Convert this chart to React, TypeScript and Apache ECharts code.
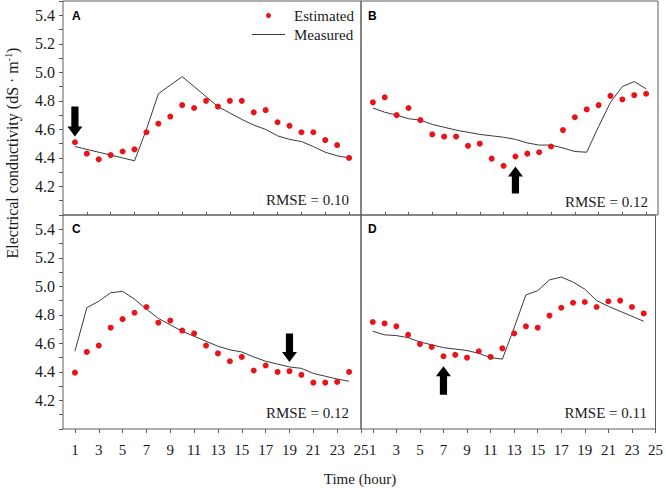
import React, { useEffect, useRef } from "react";
import * as echarts from "echarts";

const hours = [1, 2, 3, 4, 5, 6, 7, 8, 9, 10, 11, 12, 13, 14, 15, 16, 17, 18, 19, 20, 21, 22, 23, 24];

const estA = [4.51, 4.43, 4.39, 4.42, 4.445, 4.46, 4.58, 4.64, 4.69, 4.77, 4.75, 4.8, 4.76, 4.8, 4.8, 4.72, 4.735, 4.65, 4.625, 4.58, 4.58, 4.525, 4.49, 4.4];
const measA = [4.48, 4.46, 4.44, 4.42, 4.4, 4.38, 4.6, 4.85, 4.91, 4.97, 4.9, 4.83, 4.76, 4.715, 4.67, 4.63, 4.6, 4.555, 4.53, 4.515, 4.48, 4.44, 4.415, 4.4];

const estB = [4.79, 4.825, 4.7, 4.75, 4.665, 4.565, 4.55, 4.55, 4.485, 4.5, 4.395, 4.345, 4.41, 4.43, 4.44, 4.48, 4.595, 4.685, 4.74, 4.77, 4.835, 4.81, 4.84, 4.85];
const measB = [4.75, 4.72, 4.7, 4.675, 4.665, 4.635, 4.615, 4.595, 4.58, 4.565, 4.555, 4.545, 4.53, 4.505, 4.49, 4.49, 4.47, 4.445, 4.44, 4.62, 4.79, 4.9, 4.935, 4.885];

const estC = [4.395, 4.54, 4.585, 4.71, 4.77, 4.815, 4.855, 4.745, 4.76, 4.69, 4.67, 4.585, 4.53, 4.475, 4.505, 4.41, 4.445, 4.4, 4.405, 4.38, 4.325, 4.325, 4.33, 4.4];
const measC = [4.545, 4.85, 4.895, 4.955, 4.965, 4.91, 4.84, 4.775, 4.73, 4.685, 4.65, 4.615, 4.58, 4.555, 4.54, 4.505, 4.475, 4.455, 4.435, 4.425, 4.39, 4.37, 4.35, 4.335];

const estD = [4.75, 4.74, 4.72, 4.66, 4.595, 4.575, 4.51, 4.52, 4.5, 4.545, 4.505, 4.565, 4.67, 4.72, 4.71, 4.795, 4.85, 4.885, 4.89, 4.855, 4.895, 4.9, 4.855, 4.81];
const measD = [4.685, 4.66, 4.655, 4.64, 4.61, 4.59, 4.57, 4.56, 4.55, 4.53, 4.5, 4.49, 4.71, 4.94, 4.97, 5.045, 5.065, 5.03, 4.98, 4.9, 4.86, 4.825, 4.79, 4.755];

const panelLetters = ["A", "B", "C", "D"];
const rmseTexts = ["RMSE = 0.10", "RMSE = 0.12", "RMSE = 0.12", "RMSE = 0.11"];

// arrows: hour, tail value, tip value (per panel)
const arrowHours = [1, 13, 19, 7];
const arrowTails = [4.76, 4.15, 4.67, 4.24];
const arrowTips = [4.55, 4.34, 4.47, 4.44];

const xLabelValues = [1, 3, 5, 7, 9, 11, 13, 15, 17, 19, 21, 23, 25];
const xTopTickValues = [2, 4, 6, 8, 10, 12, 14, 16, 18, 20, 22, 24];
const yLabelValues = [4.2, 4.4, 4.6, 4.8, 5.0, 5.2, 5.4];
const yTickValues = [4.0, 4.1, 4.2, 4.3, 4.4, 4.5, 4.6, 4.7, 4.8, 4.9, 5.0, 5.1, 5.2, 5.3, 5.4, 5.5];

const ests = [estA, estB, estC, estD];
const meass = [measA, measB, measC, measD];

const SERIF = "Liberation Serif";
const AXIS_COLOR = "#5c5c5c";
const TEXT_COLOR = "#1a1a1a";
const DOT_COLOR = "#e8141b";
const LINE_COLOR = "#3a3a3a";

export default function App() {
  const ref = useRef<HTMLDivElement>(null);
  useEffect(() => {
    document.body.style.margin = "0";
    const chart = echarts.init(ref.current!, null, { renderer: "svg" });

    const grids = [
      { left: 63, top: 1, width: 298, height: 214 },
      { left: 361, top: 1, width: 297, height: 214 },
      { left: 63, top: 215, width: 298, height: 214 },
      { left: 361, top: 215, width: 297, height: 214 },
    ].map((g) => ({ ...g, show: true, borderColor: AXIS_COLOR, borderWidth: 1, containLabel: false }));

    const xAxes = [0, 1, 2, 3].map((i) => {
      const bottom = i >= 2;
      return {
        type: "value",
        gridIndex: i,
        min: 0,
        max: 25,
        axisLine: { show: false },
        splitLine: { show: false },
        axisTick: bottom
          ? { show: true, customValues: xLabelValues, length: 4, lineStyle: { color: AXIS_COLOR } }
          : { show: true, inside: true, customValues: xTopTickValues, length: 3, lineStyle: { color: AXIS_COLOR } },
        axisLabel: bottom
          ? { show: true, customValues: xLabelValues, fontFamily: SERIF, fontSize: 15, color: TEXT_COLOR, margin: 13 }
          : { show: false },
      };
    });

    const yAxes = [0, 1, 2, 3].map((i) => {
      const left = i % 2 === 0;
      return {
        type: "value",
        gridIndex: i,
        min: 4.0,
        max: 5.5,
        axisLine: { show: false },
        splitLine: { show: false },
        axisTick: left
          ? { show: true, customValues: yTickValues, length: 4, lineStyle: { color: AXIS_COLOR } }
          : { show: false },
        axisLabel: left
          ? {
              show: true,
              customValues: yLabelValues,
              formatter: (v: number) => v.toFixed(1),
              fontFamily: SERIF,
              fontSize: 16,
              color: TEXT_COLOR,
              margin: 8,
            }
          : { show: false },
      };
    });

    const series: any[] = [];
    for (let i = 0; i < 4; i++) {
      series.push({
        name: "Measured",
        type: "line",
        xAxisIndex: i,
        yAxisIndex: i,
        data: hours.map((h, k) => [h, meass[i][k]]),
        symbol: "none",
        lineStyle: { color: LINE_COLOR, width: 1 },
        itemStyle: { color: LINE_COLOR },
        z: 2,
      });
      series.push({
        name: "Estimated",
        type: "scatter",
        xAxisIndex: i,
        yAxisIndex: i,
        data: hours.map((h, k) => [h, ests[i][k]]),
        symbol: "circle",
        symbolSize: 6,
        itemStyle: { color: DOT_COLOR, opacity: 1 },
        z: 3,
      });
      series.push({
        type: "custom",
        xAxisIndex: i,
        yAxisIndex: i,
        silent: true,
        data: [[arrowHours[i], arrowTails[i], arrowTips[i]]],
        renderItem: (params: any, api: any) => {
          const h = api.value(0);
          const p0 = api.coord([h, api.value(1)]);
          const p1 = api.coord([h, api.value(2)]);
          const x = p0[0];
          const y0 = p0[1];
          const y1 = p1[1];
          const dir = y1 > y0 ? 1 : -1;
          const hw = 7.5;
          const sw = 3.6;
          const hl = 10;
          const yb = y1 - dir * hl;
          return {
            type: "polygon",
            shape: {
              points: [
                [x - sw, y0],
                [x + sw, y0],
                [x + sw, yb],
                [x + hw, yb],
                [x, y1],
                [x - hw, yb],
                [x - sw, yb],
              ],
            },
            style: { fill: "#000" },
          };
        },
        z: 4,
      });
    }

    const letterPos = [
      [72, 16],
      [368, 16],
      [72, 229],
      [368, 229],
    ];
    const rmsePos = [
      [349, 200],
      [648, 202],
      [349, 413],
      [647, 413],
    ];

    const graphic: any[] = [];
    for (let i = 0; i < 4; i++) {
      graphic.push({
        type: "text",
        x: letterPos[i][0],
        y: letterPos[i][1],
        style: {
          text: panelLetters[i],
          fontFamily: "Liberation Sans",
          fontWeight: "bold",
          fontSize: 12,
          fill: "#000",
          align: "left",
          verticalAlign: "middle",
        },
      });
      graphic.push({
        type: "text",
        x: rmsePos[i][0],
        y: rmsePos[i][1],
        style: {
          text: rmseTexts[i],
          fontFamily: SERIF,
          fontSize: 15,
          fill: TEXT_COLOR,
          align: "right",
          verticalAlign: "middle",
        },
      });
    }
    graphic.push({
      type: "text",
      x: 360,
      y: 479,
      style: {
        text: "Time (hour)",
        fontFamily: SERIF,
        fontSize: 15,
        fill: TEXT_COLOR,
        align: "center",
        verticalAlign: "middle",
      },
    });
    graphic.push({
      type: "text",
      x: 12,
      y: 153,
      rotation: Math.PI / 2,
      style: {
        text: "{a|Electrical conductivity (dS · m}{s|-1}{a|)}",
        rich: {
          a: { fontFamily: SERIF, fontSize: 16, fill: TEXT_COLOR, lineHeight: 18 },
          s: { fontFamily: SERIF, fontSize: 10, fill: TEXT_COLOR, verticalAlign: "top", lineHeight: 18, padding: [0, 0, 6, 0] },
        },
        align: "center",
        verticalAlign: "middle",
      },
    });

    chart.setOption({
      animation: false,
      grid: grids,
      xAxis: xAxes,
      yAxis: yAxes,
      legend: {
        data: [
          { name: "Estimated", icon: "circle", itemStyle: { color: DOT_COLOR, opacity: 1 } },
          { name: "Measured", icon: "path://M0,0H33V1H0Z", itemStyle: { color: LINE_COLOR } },
        ],
        orient: "vertical",
        left: 252,
        top: 8,
        padding: 0,
        itemWidth: 33,
        itemHeight: 5,
        itemGap: 4,
        textStyle: { fontFamily: SERIF, fontSize: 15, color: TEXT_COLOR, padding: [0, 0, 0, 4] },
      },
      series,
      graphic,
    });
    return () => chart.dispose();
  }, []);
  return <div ref={ref} style={{ width: 666, height: 488 }} />;
}
